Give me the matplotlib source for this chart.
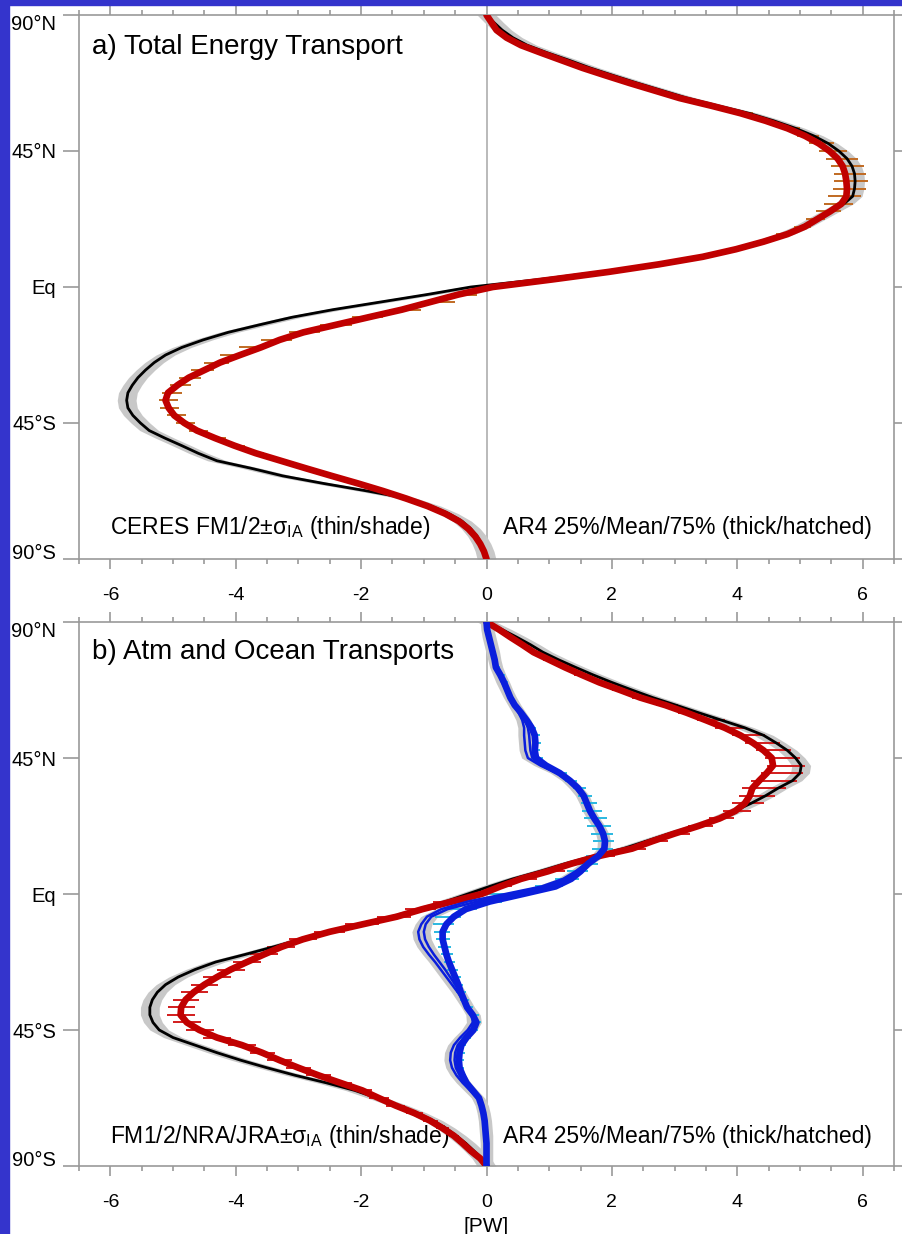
import numpy as np
import matplotlib
matplotlib.use("Agg")
import matplotlib.pyplot as plt
from matplotlib.ticker import MultipleLocator
from matplotlib.patches import Rectangle

plt.rcParams['font.family'] = ['Liberation Sans', 'DejaVu Sans']
plt.rcParams['mathtext.fontset'] = 'custom'
plt.rcParams['mathtext.rm'] = 'Liberation Sans'
plt.rcParams['mathtext.it'] = 'Liberation Sans:italic'

# latitude grid (north to south), 2.5 degree spacing
lat = np.arange(90, -90.1, -2.5)

# ---------------- panel a: total energy transport [PW] ----------------
ar4_tot_mean = [0.00, 0.08, 0.16, 0.32, 0.55, 0.87, 1.20, 1.53, 1.90, 2.28, 2.68, 3.08, 3.58, 4.05, 4.45, 4.80, 5.08, 5.30,
                5.47, 5.60, 5.68, 5.72, 5.74, 5.75, 5.74, 5.66, 5.48, 5.28, 5.08, 4.80, 4.42, 3.98, 3.45, 2.75, 1.95, 1.05, 0.10,
                -0.45, -0.90, -1.35, -1.88, -2.40, -2.92, -3.30, -3.60, -3.93, -4.25, -4.50, -4.75, -4.93, -5.08, -5.12, -5.07,
                -4.98, -4.82, -4.62, -4.33, -4.02, -3.68, -3.28, -2.88, -2.47, -2.05, -1.65, -1.28, -0.94, -0.66, -0.44, -0.29,
                -0.18, -0.10, -0.04, 0.00]
ar4_tot_p25 = [0.00, 0.05, 0.12, 0.27, 0.46, 0.78, 1.11, 1.43, 1.80, 2.18, 2.57, 2.97, 3.46, 3.93, 4.33, 4.66, 4.95, 5.15,
               5.30, 5.42, 5.50, 5.55, 5.55, 5.52, 5.45, 5.38, 5.25, 5.10, 4.90, 4.62, 4.25, 3.82, 3.30, 2.60, 1.80, 0.90, -0.05,
               -0.62, -1.05, -1.55, -2.15, -2.65, -3.15, -3.60, -3.95, -4.25, -4.50, -4.72, -4.90, -5.05, -5.18, -5.22, -5.20,
               -5.10, -4.95, -4.75, -4.45, -4.10, -3.78, -3.38, -2.98, -2.57, -2.15, -1.75, -1.38, -1.03, -0.74, -0.51, -0.35,
               -0.23, -0.13, -0.06, 0.00]
ar4_tot_p75 = [0.00, 0.12, 0.24, 0.40, 0.62, 0.96, 1.31, 1.65, 2.02, 2.40, 2.80, 3.20, 3.70, 4.25, 4.62, 5.00, 5.30, 5.55,
               5.75, 5.92, 6.02, 6.06, 6.08, 6.05, 5.98, 5.85, 5.65, 5.40, 5.18, 4.90, 4.52, 4.08, 3.55, 2.85, 2.05, 1.15, 0.25,
               -0.15, -0.50, -1.05, -1.65, -2.15, -2.65, -3.10, -3.50, -3.85, -4.10, -4.35, -4.55, -4.72, -4.85, -4.92, -4.90,
               -4.80, -4.65, -4.45, -4.15, -3.85, -3.55, -3.18, -2.78, -2.37, -1.95, -1.55, -1.18, -0.85, -0.58, -0.37, -0.23,
               -0.13, -0.07, -0.02, 0.00]
ceres_tot = [0.00, 0.12, 0.25, 0.42, 0.65, 0.97, 1.32, 1.65, 2.02, 2.40, 2.80, 3.20, 3.68, 4.18, 4.58, 4.93, 5.22, 5.45,
             5.62, 5.75, 5.83, 5.87, 5.88, 5.87, 5.84, 5.70, 5.48, 5.26, 5.04, 4.76, 4.38, 3.92, 3.36, 2.66, 1.82, 0.85, -0.25,
             -0.95, -1.70, -2.45, -3.10, -3.62, -4.12, -4.52, -4.86, -5.12, -5.30, -5.44, -5.56, -5.65, -5.72, -5.74, -5.72,
             -5.64, -5.52, -5.38, -5.13, -4.86, -4.60, -4.30, -3.75, -3.25, -2.60, -1.90, -1.25, -0.88, -0.60, -0.39, -0.25,
             -0.15, -0.08, -0.03, 0.00]
ceres_sigma = 0.15

# ---------------- panel b: atmosphere and ocean transports [PW] ----------------
atm_mean = [0.00, 0.20, 0.38, 0.57, 0.75, 1.00, 1.25, 1.52, 1.80, 2.13, 2.45, 2.85, 3.19, 3.50, 3.80, 4.05, 4.25, 4.42,
            4.55, 4.57, 4.47, 4.35, 4.24, 4.20, 4.12, 3.97, 3.72, 3.38, 3.00, 2.65, 2.32, 1.78, 1.35, 0.98, 0.55, 0.22, -0.08,
            -0.55, -1.02, -1.43, -1.97, -2.50, -2.93, -3.27, -3.55, -3.82, -4.08, -4.30, -4.50, -4.67, -4.80, -4.87, -4.88,
            -4.78, -4.58, -4.30, -3.90, -3.58, -3.30, -3.00, -2.68, -2.33, -1.98, -1.72, -1.45, -1.15, -0.90, -0.70, -0.52,
            -0.38, -0.25, -0.10, 0.00]
atm_p25 = [0.00, 0.16, 0.32, 0.50, 0.67, 0.90, 1.15, 1.40, 1.68, 2.00, 2.32, 2.70, 3.05, 3.35, 3.65, 3.92, 4.12, 4.30,
           4.45, 4.48, 4.38, 4.22, 4.08, 4.02, 3.92, 3.78, 3.55, 3.22, 2.85, 2.52, 2.18, 1.68, 1.25, 0.88, 0.45, 0.12, -0.20,
           -0.85, -1.30, -1.75, -2.25, -2.75, -3.15, -3.50, -3.78, -4.05, -4.30, -4.52, -4.72, -4.88, -5.00, -5.08, -5.10,
           -5.00, -4.80, -4.52, -4.12, -3.78, -3.50, -3.20, -2.88, -2.52, -2.15, -1.88, -1.60, -1.28, -1.02, -0.80, -0.60,
           -0.45, -0.30, -0.13, 0.00]
atm_p75 = [0.00, 0.24, 0.45, 0.66, 0.86, 1.12, 1.38, 1.66, 1.96, 2.30, 2.65, 3.05, 3.42, 3.80, 4.15, 4.45, 4.68, 4.86,
           5.00, 5.08, 5.05, 4.95, 4.78, 4.60, 4.42, 4.22, 3.95, 3.62, 3.25, 2.90, 2.55, 2.05, 1.62, 1.25, 0.80, 0.40, 0.05,
           -0.35, -0.80, -1.20, -1.72, -2.25, -2.70, -3.05, -3.32, -3.60, -3.85, -4.08, -4.28, -4.45, -4.58, -4.65, -4.65,
           -4.55, -4.35, -4.08, -3.68, -3.38, -3.10, -2.80, -2.48, -2.15, -1.82, -1.56, -1.30, -1.02, -0.78, -0.60, -0.44,
           -0.31, -0.20, -0.07, 0.00]
atm_obs = [0.00, 0.25, 0.48, 0.70, 0.90, 1.15, 1.42, 1.70, 2.00, 2.32, 2.65, 3.02, 3.38, 3.75, 4.12, 4.42, 4.62, 4.80,
           4.93, 5.02, 5.00, 4.88, 4.65, 4.45, 4.22, 3.96, 3.68, 3.32, 2.92, 2.55, 2.18, 1.70, 1.25, 0.85, 0.42, 0.05, -0.30,
           -0.65, -1.08, -1.50, -2.05, -2.55, -2.97, -3.40, -3.85, -4.32, -4.65, -4.92, -5.12, -5.25, -5.33, -5.37, -5.37,
           -5.32, -5.22, -5.00, -4.65, -4.30, -3.92, -3.50, -3.05, -2.55, -2.10, -1.75, -1.40, -1.10, -0.85, -0.65, -0.48,
           -0.33, -0.20, -0.08, 0.00]
atm_sigma = 0.15

ocn_mean = [0.00, 0.01, 0.04, 0.07, 0.10, 0.13, 0.15, 0.22, 0.28, 0.33, 0.38, 0.45, 0.55, 0.64, 0.72, 0.77, 0.78, 0.77,
            0.79, 0.95, 1.17, 1.33, 1.46, 1.55, 1.60, 1.65, 1.72, 1.80, 1.86, 1.89, 1.88, 1.78, 1.62, 1.50, 1.35, 1.10, 0.58,
            0.05, -0.33, -0.52, -0.64, -0.70, -0.70, -0.67, -0.64, -0.60, -0.55, -0.50, -0.45, -0.41, -0.36, -0.31, -0.22,
            -0.16, -0.21, -0.32, -0.40, -0.43, -0.44, -0.43, -0.38, -0.32, -0.22, -0.12, -0.08, -0.05, -0.03, -0.02, -0.01,
            0.00, 0.00, 0.00, 0.00]
ocn_p25 = [0.00, 0.00, 0.02, 0.05, 0.08, 0.10, 0.12, 0.18, 0.24, 0.29, 0.34, 0.41, 0.51, 0.60, 0.68, 0.73, 0.74, 0.74,
           0.76, 0.90, 1.10, 1.26, 1.38, 1.46, 1.50, 1.52, 1.56, 1.60, 1.66, 1.70, 1.68, 1.58, 1.42, 1.28, 1.10, 0.78, -0.05,
           -0.20, -0.60, -0.82, -0.85, -0.84, -0.80, -0.77, -0.73, -0.68, -0.63, -0.58, -0.53, -0.48, -0.42, -0.36, -0.28,
           -0.22, -0.28, -0.40, -0.47, -0.50, -0.50, -0.48, -0.42, -0.35, -0.25, -0.14, -0.09, -0.06, -0.04, -0.02, -0.01,
           0.00, 0.00, 0.00, 0.00]
ocn_p75 = [0.00, 0.03, 0.07, 0.11, 0.14, 0.17, 0.21, 0.29, 0.34, 0.38, 0.42, 0.50, 0.60, 0.70, 0.79, 0.85, 0.87, 0.86,
           0.90, 1.05, 1.28, 1.45, 1.58, 1.68, 1.76, 1.84, 1.92, 1.98, 2.02, 2.04, 2.02, 1.92, 1.78, 1.62, 1.48, 1.22, 0.62,
           0.25, -0.15, -0.40, -0.52, -0.58, -0.58, -0.56, -0.53, -0.50, -0.45, -0.41, -0.37, -0.33, -0.28, -0.22, -0.12,
           -0.08, -0.13, -0.24, -0.32, -0.35, -0.36, -0.36, -0.32, -0.27, -0.18, -0.09, -0.06, -0.04, -0.02, -0.01, 0.00,
           0.00, 0.00, 0.00, 0.00]
ocn_obs_a = [0.00, 0.01, 0.03, 0.06, 0.09, 0.12, 0.15, 0.20, 0.25, 0.31, 0.37, 0.44, 0.51, 0.57, 0.60, 0.60, 0.61, 0.62,
             0.66, 0.86, 1.12, 1.30, 1.42, 1.52, 1.58, 1.63, 1.70, 1.78, 1.84, 1.87, 1.86, 1.76, 1.58, 1.42, 1.22, 0.88, 0.30,
             -0.30, -0.72, -0.95, -1.04, -1.09, -1.07, -1.01, -0.92, -0.82, -0.73, -0.64, -0.55, -0.46, -0.38, -0.30, -0.23,
             -0.22, -0.30, -0.42, -0.52, -0.57, -0.58, -0.55, -0.48, -0.38, -0.26, -0.14, -0.08, -0.05, -0.03, -0.02, -0.01,
             0.00, 0.00, 0.00, 0.00]
ocn_obs_b = [0.00, 0.02, 0.05, 0.08, 0.11, 0.13, 0.16, 0.21, 0.27, 0.32, 0.38, 0.45, 0.53, 0.61, 0.66, 0.68, 0.69, 0.70,
             0.73, 0.90, 1.14, 1.32, 1.44, 1.54, 1.59, 1.64, 1.71, 1.79, 1.85, 1.88, 1.87, 1.77, 1.60, 1.45, 1.28, 0.95, 0.42,
             -0.15, -0.62, -0.88, -0.97, -1.00, -0.98, -0.92, -0.84, -0.75, -0.66, -0.58, -0.50, -0.43, -0.36, -0.29, -0.20,
             -0.18, -0.25, -0.36, -0.46, -0.50, -0.51, -0.49, -0.43, -0.35, -0.24, -0.13, -0.07, -0.04, -0.02, -0.01, 0.00,
             0.00, 0.00, 0.00, 0.00]
ocn_sigma = 0.10

for name, arr in [('ar4_tot_mean', ar4_tot_mean), ('ar4_tot_p25', ar4_tot_p25), ('ar4_tot_p75', ar4_tot_p75),
                  ('ceres_tot', ceres_tot), ('atm_mean', atm_mean), ('atm_p25', atm_p25), ('atm_p75', atm_p75),
                  ('atm_obs', atm_obs), ('ocn_mean', ocn_mean), ('ocn_p25', ocn_p25), ('ocn_p75', ocn_p75),
                  ('ocn_obs_a', ocn_obs_a), ('ocn_obs_b', ocn_obs_b)]:
    assert len(arr) == len(lat), (name, len(arr))

ytick_vals = [90, 45, 0, -45, -90]
ytick_labels = ['90°N', '45°N', 'Eq', '45°S', '90°S']
xtick_vals = [-6, -4, -2, 0, 2, 4, 6]

# ---------------- styling ----------------
RED = '#c00000'
BLUE = '#0a1edc'
GRAY = '#c8c8c8'
HATCH_A = '#c06a22'
HATCH_ATM = '#d21c1c'
HATCH_OCN = '#2ab8e0'
AXC = '#999999'

fig = plt.figure(figsize=(9.02, 12.34), dpi=100)
fig.patch.set_facecolor('white')
fig.patches.append(Rectangle((0, 0), 8.5 / 902, 1, transform=fig.transFigure, color='#3434cc', zorder=0))
fig.patches.append(Rectangle((0, 1 - 4.5 / 1234), 1, 4.5 / 1234, transform=fig.transFigure, color='#3434cc', zorder=0))

L, W, H = 79 / 902, 815 / 902, 544 / 1234
ax_a = fig.add_axes([L, (1234 - 559) / 1234, W, H])
ax_b = fig.add_axes([L, (1234 - 1166) / 1234, W, H])


def style(ax):
    ax.set_xlim(-6.5, 6.5)
    ax.set_ylim(-90, 90)
    ax.axvline(0, color='#b4b4b4', lw=1.3, zorder=0.5)
    for s in ax.spines.values():
        s.set_color(AXC)
        s.set_linewidth(1.2)
    ax.set_xticks(xtick_vals)
    ax.set_xticklabels([str(v) for v in xtick_vals])
    ax.xaxis.set_minor_locator(MultipleLocator(0.5))
    ax.set_yticks(ytick_vals)
    ax.set_yticklabels(ytick_labels)
    ax.tick_params(axis='both', which='both', direction='out', color=AXC, width=1.2,
                   top=True, right=True, labelcolor='black')
    ax.tick_params(axis='x', which='major', length=7.2, pad=13, labelsize=14)
    ax.tick_params(axis='x', which='minor', length=3.6)
    ax.tick_params(axis='y', which='major', length=11.5, pad=5, labelsize=14.5)
    labs = ax.get_yticklabels()
    labs[0].set_verticalalignment('top')
    labs[-1].set_verticalalignment('baseline')


def band(ax, center, sigma):
    c = np.asarray(center)
    ax.fill_betweenx(lat, c - sigma, c + sigma, color=GRAY, lw=0, zorder=1)


# ---- panel a ----
style(ax_a)
band(ax_a, ceres_tot, ceres_sigma)
ax_a.hlines(lat, ar4_tot_p25, ar4_tot_p75, color=HATCH_A, lw=1.4, zorder=2)
ax_a.plot(ceres_tot, lat, color='black', lw=2.0, zorder=3)
ax_a.plot(ar4_tot_mean, lat, color=RED, lw=4.8, solid_capstyle='round', solid_joinstyle='round', zorder=4)
ax_a.text(0.016, 0.941, 'a) Total Energy Transport', transform=ax_a.transAxes, fontsize=20, va='center', ha='left')
ax_a.text(0.038, 0.057, r'CERES FM1/2$\mathrm{\pm\sigma_{IA}}$ (thin/shade)', transform=ax_a.transAxes,
          fontsize=16.5, va='center', ha='left')
ax_a.text(0.973, 0.057, 'AR4 25%/Mean/75% (thick/hatched)', transform=ax_a.transAxes,
          fontsize=16.5, va='center', ha='right')

# ---- panel b ----
style(ax_b)
band(ax_b, atm_obs, atm_sigma)
lo = np.minimum(ocn_obs_a, ocn_obs_b) - ocn_sigma
hi = np.maximum(ocn_obs_a, ocn_obs_b) + ocn_sigma
ax_b.fill_betweenx(lat, lo, hi, color=GRAY, lw=0, zorder=1)
ax_b.hlines(lat, atm_p25, atm_p75, color=HATCH_ATM, lw=1.4, zorder=2)
ax_b.hlines(lat, ocn_p25, ocn_p75, color=HATCH_OCN, lw=1.4, zorder=2)
ax_b.plot(atm_obs, lat, color='black', lw=2.0, zorder=3)
ax_b.plot(atm_mean, lat, color=RED, lw=4.8, solid_capstyle='round', solid_joinstyle='round', zorder=4)
ax_b.plot(ocn_obs_a, lat, color=BLUE, lw=1.8, zorder=5)
ax_b.plot(ocn_obs_b, lat, color=BLUE, lw=1.8, zorder=5)
ax_b.plot(ocn_mean, lat, color=BLUE, lw=4.8, solid_capstyle='round', solid_joinstyle='round', zorder=6)
ax_b.text(0.016, 0.945, 'b) Atm and Ocean Transports', transform=ax_b.transAxes, fontsize=20, va='center', ha='left')
ax_b.text(0.038, 0.055, r'FM1/2/NRA/JRA$\mathrm{\pm\sigma_{IA}}$ (thin/shade)', transform=ax_b.transAxes,
          fontsize=16.5, va='center', ha='left')
ax_b.text(0.973, 0.055, 'AR4 25%/Mean/75% (thick/hatched)', transform=ax_b.transAxes,
          fontsize=16.5, va='center', ha='right')
ax_b.set_xlabel('[PW]', fontsize=15, labelpad=4)

fig.savefig('out.png', dpi=100, facecolor='white')
